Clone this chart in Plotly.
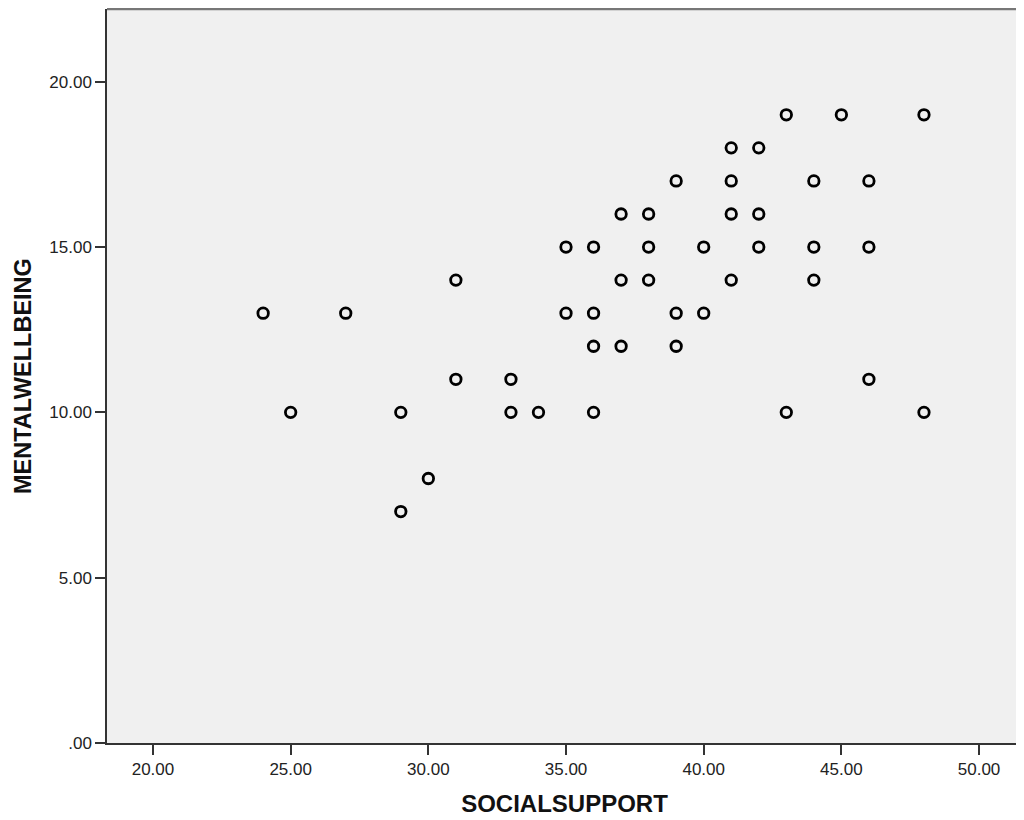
import plotly.graph_objects as go

# Data
social_support = [43, 45, 48,
                  41, 42,
                  39, 41, 44, 46,
                  37, 38, 41, 42,
                  35, 36, 38, 40, 42, 44, 46,
                  31, 37, 38, 41, 44,
                  24, 27, 35, 36, 39, 40,
                  36, 37, 39,
                  31, 33, 46,
                  25, 29, 33, 34, 36, 43, 48,
                  30,
                  29]
mental_wellbeing = [19, 19, 19,
                    18, 18,
                    17, 17, 17, 17,
                    16, 16, 16, 16,
                    15, 15, 15, 15, 15, 15, 15,
                    14, 14, 14, 14, 14,
                    13, 13, 13, 13, 13, 13,
                    12, 12, 12,
                    11, 11, 11,
                    10, 10, 10, 10, 10, 10, 10,
                    8,
                    7]

x_tick_vals = [20, 25, 30, 35, 40, 45, 50]
x_tick_text = ["20.00", "25.00", "30.00", "35.00", "40.00", "45.00", "50.00"]
y_tick_vals = [0, 5, 10, 15, 20]
y_tick_text = [".00", "5.00", "10.00", "15.00", "20.00"]

fig = go.Figure()
fig.add_trace(go.Scatter(
    x=social_support, y=mental_wellbeing, mode="markers",
    marker=dict(symbol="circle-open", size=10.5, color="black",
                line=dict(width=2.8, color="black")),
    showlegend=False,
))

font_family = "Liberation Sans, Arial, sans-serif"
fig.update_layout(
    width=1016, height=812,
    margin=dict(l=99, r=2, t=1, b=77),
    paper_bgcolor="white",
    plot_bgcolor="#F0F0F0",
    font=dict(family=font_family, color="#222222"),
    xaxis=dict(
        range=[18.33, 51.56], tickvals=x_tick_vals, ticktext=x_tick_text,
        showgrid=False, zeroline=False, showline=True, linecolor="#333333", linewidth=1.5,
        ticks="outside", ticklen=10, tickwidth=1.5, tickcolor="#333333",
        tickfont=dict(size=17, color="#222222"),
        title=dict(text="<b>SOCIALSUPPORT</b>", font=dict(size=24, color="#111111"), standoff=17),
    ),
    yaxis=dict(
        range=[0, 22.2], tickvals=y_tick_vals, ticktext=y_tick_text,
        showgrid=False, zeroline=False, showline=True, linecolor="#333333", linewidth=1.5,
        ticks="outside", ticklen=10, tickwidth=1.5, tickcolor="#333333",
        tickfont=dict(size=17, color="#222222"),
    ),
    annotations=[dict(text="<b>MENTALWELLBEING</b>", xref="paper", yref="paper",
                      x=-0.0918, y=0.5, xanchor="center", yanchor="middle",
                      textangle=-90, showarrow=False, borderpad=0,
                      font=dict(size=23.5, color="#111111", family=font_family))],
    shapes=[dict(type="line", xref="paper", yref="paper", x0=0, x1=1, y0=1, y1=1,
                 line=dict(color="#777777", width=2.5))],
)

fig.write_html("out.html")
